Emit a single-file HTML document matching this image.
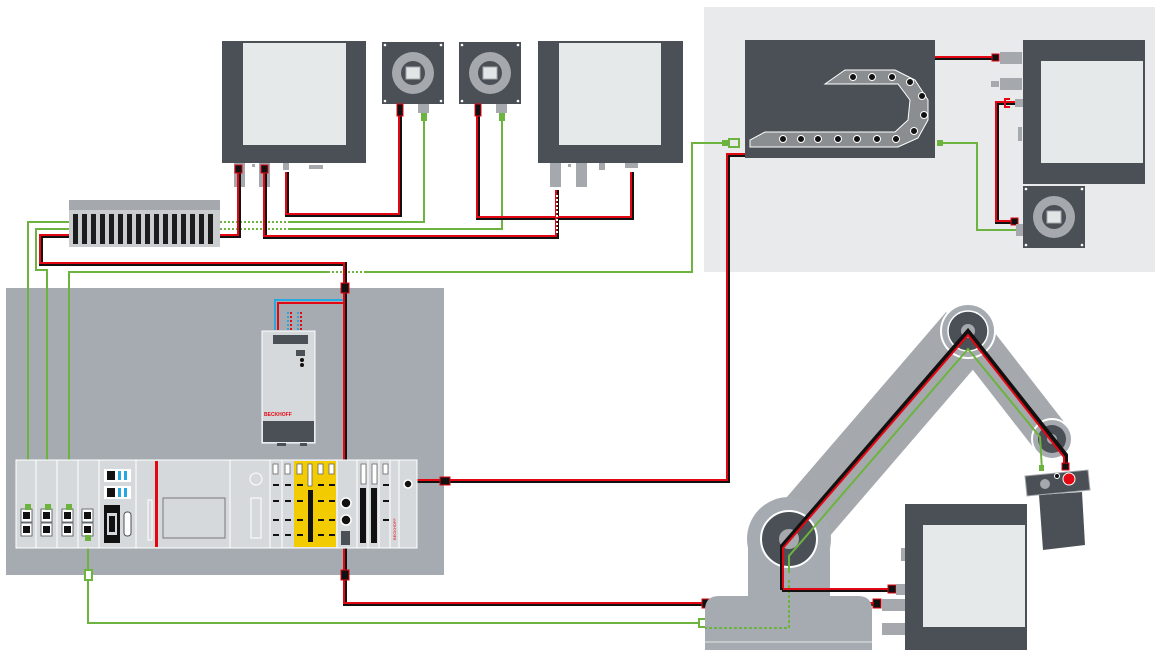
<!DOCTYPE html>
<html><head><meta charset="utf-8"><style>html,body{margin:0;padding:0;background:#fff}svg{display:block}</style></head>
<body>
<svg width="1160" height="655" viewBox="0 0 1160 655" xmlns="http://www.w3.org/2000/svg" font-family="Liberation Sans, sans-serif">
<defs>
<g id="motor">
<rect x="0" y="0" width="62" height="62" fill="#4a5055"/>
<circle cx="3" cy="3" r="1.3" fill="#fff"/><circle cx="59" cy="3" r="1.3" fill="#fff"/><circle cx="3" cy="59" r="1.3" fill="#fff"/><circle cx="59" cy="59" r="1.3" fill="#fff"/>
<circle cx="31" cy="31" r="21" fill="#a5a9ad"/><circle cx="31" cy="31" r="12" fill="#4a5055"/>
<rect x="24" y="25" width="14" height="12" fill="#e2e5e6" stroke="#a5a9ad"/>
</g>
</defs>
<rect x="704" y="7" width="451" height="265" fill="#e8eaeb"/>
<rect x="6" y="288" width="438" height="287" fill="#a5abb0"/>

<rect x="222" y="41" width="144" height="122" fill="#4a5055"/>
<rect x="243" y="43" width="103" height="102" fill="#e6e9ea"/>
<rect x="234" y="163" width="11" height="24" fill="#a5a9ad"/>
<rect x="259" y="163" width="11" height="24" fill="#a5a9ad"/>
<rect x="283" y="163" width="6" height="7" fill="#a5a9ad"/>
<rect x="309" y="165" width="14" height="4" fill="#a5a9ad"/>
<rect x="252" y="164" width="3" height="3" fill="#a5a9ad"/>
<rect x="538" y="41" width="145" height="122" fill="#4a5055"/>
<rect x="559" y="43" width="102" height="102" fill="#e6e9ea"/>
<rect x="550" y="163" width="11" height="24" fill="#a5a9ad"/>
<rect x="576" y="163" width="11" height="24" fill="#a5a9ad"/>
<rect x="599" y="163" width="6" height="7" fill="#a5a9ad"/>
<rect x="625" y="163" width="13" height="5" fill="#a5a9ad"/>
<rect x="568" y="164" width="3" height="3" fill="#a5a9ad"/>
<use href="#motor" x="382" y="42"/>
<use href="#motor" x="459" y="42"/>
<rect x="418" y="104" width="11" height="9" fill="#a5a9ad"/>
<rect x="496" y="104" width="11" height="9" fill="#a5a9ad"/>

<rect x="69" y="200" width="151" height="47" fill="#c9cdd0"/>
<rect x="69" y="200" width="151" height="10" fill="#a5a9ad"/>
<g fill="#1c1c1c">
<rect x="73" y="214" width="5" height="30"/><rect x="82" y="214" width="5" height="30"/><rect x="91" y="214" width="5" height="30"/><rect x="100" y="214" width="5" height="30"/><rect x="109" y="214" width="5" height="30"/><rect x="118" y="214" width="5" height="30"/><rect x="127" y="214" width="5" height="30"/><rect x="136" y="214" width="5" height="30"/><rect x="145" y="214" width="5" height="30"/><rect x="154" y="214" width="5" height="30"/><rect x="163" y="214" width="5" height="30"/><rect x="172" y="214" width="5" height="30"/><rect x="181" y="214" width="5" height="30"/><rect x="190" y="214" width="5" height="30"/><rect x="199" y="214" width="5" height="30"/><rect x="208" y="214" width="5" height="30"/>
</g>

<g fill="none" stroke="#6db33f" stroke-width="2">
<polyline points="424,113 424,222 220,222"/>
<polyline points="502,113 502,229 220,229"/>
<polyline points="69,222 28,222 28,462"/>
<polyline points="69,229 36,229 36,270 47,270 47,462"/>
<polyline points="69,462 69,272 692,272 692,143 722,143"/>
<polyline points="88,540 88,623 705,623"/>
<polyline points="937,143 977,143 977,230 1016,230"/>
</g>
<g stroke="#fff" stroke-width="2" stroke-dasharray="2,2"><line x1="222" y1="222" x2="290" y2="222"/><line x1="222" y1="229" x2="290" y2="229"/><line x1="330" y1="272" x2="365" y2="272"/></g>
<g fill="none" stroke-linejoin="miter">
<g stroke="#111" stroke-width="4">
<polyline points="239,170 239,236 220,236"/>
<polyline points="265,170 265,237 557,237 557,190"/>
<polyline points="287,172 287,215 400,215 400,108"/>
<polyline points="478,108 478,218 632,218 632,172"/>
<polyline points="69,236 41,236 41,264 345,264 345,500"/>
<polyline points="345,520 345,604 880,604"/>
<polyline points="410,481 728,481 728,155 745,155"/>
<polyline points="935,58 997,58"/>
<polyline points="1016,103 997,103 997,222 1016,222"/>
</g>
<g stroke="#e30613" stroke-width="2">
<polyline points="238,170 238,235 220,235"/>
<polyline points="264,170 264,236 556,236 556,190"/>
<polyline points="286,172 286,214 399,214 399,108"/>
<polyline points="477,108 477,217 631,217 631,172"/>
<polyline points="69,235 40,235 40,263 344,263 344,500"/>
<polyline points="344,520 344,603 880,603"/>
<polyline points="410,480 727,480 727,154 745,154"/>
<polyline points="935,57 997,57"/>
<polyline points="1016,102 996,102 996,221 1016,221"/>
</g>
</g>
<g stroke="#fff" stroke-width="2" stroke-dasharray="2,2"><line x1="557" y1="195" x2="557" y2="234"/><line x1="770" y1="604" x2="810" y2="604"/></g>
<rect x="235" y="165" width="7" height="8" fill="#111" stroke="#e30613"/>
<rect x="261" y="165" width="7" height="8" fill="#111" stroke="#e30613"/>
<rect x="397" y="104" width="6" height="12" fill="#111" stroke="#e30613"/>
<rect x="475" y="104" width="6" height="12" fill="#111" stroke="#e30613"/>
<rect x="341" y="283" width="8" height="10" fill="#111" stroke="#e30613"/>
<rect x="341" y="570" width="8" height="10" fill="#111" stroke="#e30613"/>
<rect x="440" y="477" width="10" height="8" fill="#111" stroke="#e30613"/>
<rect x="702" y="599" width="9" height="9" fill="#111" stroke="#e30613"/>
<rect x="421" y="113" width="6" height="8" fill="#6db33f"/>
<rect x="499" y="113" width="6" height="8" fill="#6db33f"/>
<rect x="85" y="570" width="7" height="10" fill="#fff" stroke="#6db33f" stroke-width="2"/>
<rect x="699" y="619" width="9" height="8" fill="#fff" stroke="#6db33f" stroke-width="2"/>
<rect x="722" y="140" width="6" height="6" fill="#6db33f"/>
<rect x="729" y="139" width="10" height="8" fill="none" stroke="#6db33f" stroke-width="2"/>
<rect x="937" y="140" width="6" height="6" fill="#6db33f"/>

<rect x="745" y="40" width="190" height="118" fill="#4a5055"/>
<path d="M825,84 L845,70 L895,70 L915,80 L928,100 L928,120 L918,138 L898,147 L750,147 L750,140 L765,132 L895,132 L908,120 L910,100 L898,84 Z" fill="#8a8e91" stroke="#fff" stroke-width="1"/>
<g fill="#111" stroke="#fff" stroke-width="1">
<circle cx="853" cy="77" r="3.5"/><circle cx="872" cy="77" r="3.5"/><circle cx="892" cy="77" r="3.5"/><circle cx="910" cy="82" r="3.5"/><circle cx="922" cy="96" r="3.5"/><circle cx="924" cy="115" r="3.5"/><circle cx="914" cy="131" r="3.5"/><circle cx="896" cy="139" r="3.5"/><circle cx="877" cy="139" r="3.5"/><circle cx="857" cy="139" r="3.5"/><circle cx="838" cy="139" r="3.5"/><circle cx="818" cy="139" r="3.5"/><circle cx="801" cy="139" r="3.5"/><circle cx="783" cy="139" r="3.5"/>
</g>
<rect x="1023" y="40" width="122" height="144" fill="#4a5055"/>
<rect x="1041" y="61" width="102" height="102" fill="#e6e9ea"/>
<rect x="1000" y="52" width="22" height="12" fill="#a5a9ad"/>
<rect x="1000" y="78" width="22" height="12" fill="#a5a9ad"/>
<rect x="991" y="81" width="8" height="6" fill="#a5a9ad"/>
<rect x="992" y="54" width="7" height="7" fill="#111" stroke="#e30613"/>
<rect x="1015" y="99" width="8" height="8" fill="#a5a9ad"/>
<rect x="1018" y="127" width="4" height="14" fill="#a5a9ad"/>
<path d="M1010,99 h-5 v8 h5" fill="none" stroke="#e30613" stroke-width="2"/>
<use href="#motor" x="1023" y="186"/>
<rect x="1011" y="218" width="7" height="7" fill="#111" stroke="#e30613"/>
<rect x="1016" y="224" width="7" height="12" fill="#a5a9ad"/>

<g fill="none" stroke-width="2">
<polyline points="275,330 275,300 343,300" stroke="#29a8e0"/>
<polyline points="278,330 278,303 343,303" stroke="#e30613"/>
</g>
<g stroke-width="2" stroke-dasharray="2,2"><line x1="288" y1="312" x2="288" y2="330" stroke="#29a8e0"/><line x1="291" y1="312" x2="291" y2="330" stroke="#e30613"/><line x1="298" y1="312" x2="298" y2="330" stroke="#29a8e0"/><line x1="301" y1="312" x2="301" y2="330" stroke="#e30613"/></g>
<rect x="262" y="331" width="53" height="112" fill="#d6d9db" stroke="#fff"/>
<rect x="273" y="335" width="35" height="9" fill="#4a5055"/>
<rect x="296" y="350" width="9" height="6" fill="#4a5055"/>
<circle cx="302" cy="360" r="2" fill="#111"/><circle cx="302" cy="365" r="2" fill="#111"/>
<text x="264" y="416" font-size="5" font-weight="bold" fill="#e30613">BECKHOFF</text>
<rect x="263" y="421" width="51" height="21" fill="#4a5055"/>
<rect x="277" y="443" width="9" height="3" fill="#4a5055"/><rect x="300" y="443" width="7" height="3" fill="#4a5055"/>

<rect x="16" y="460" width="401" height="88" fill="#d6d9db" stroke="#fff"/>
<g stroke="#fff" stroke-width="1">
<line x1="36" y1="460" x2="36" y2="548"/><line x1="57" y1="460" x2="57" y2="548"/><line x1="78" y1="460" x2="78" y2="548"/><line x1="99" y1="460" x2="99" y2="548"/><line x1="136" y1="460" x2="136" y2="548"/><line x1="230" y1="460" x2="230" y2="548"/><line x1="270" y1="460" x2="270" y2="548"/><line x1="282" y1="460" x2="282" y2="548"/><line x1="337" y1="460" x2="337" y2="548"/><line x1="357" y1="460" x2="357" y2="548"/><line x1="368" y1="460" x2="368" y2="548"/><line x1="379" y1="460" x2="379" y2="548"/><line x1="390" y1="460" x2="390" y2="548"/><line x1="399" y1="460" x2="399" y2="548"/>
</g>
<rect x="294" y="461" width="42" height="86" fill="#f2cc00"/>
<g fill="#fff" stroke="#4a5055" stroke-width="0.8">
<rect x="21" y="509" width="11" height="13"/><rect x="21" y="523" width="11" height="13"/>
<rect x="41" y="509" width="11" height="13"/><rect x="41" y="523" width="11" height="13"/>
<rect x="62" y="509" width="11" height="13"/><rect x="62" y="523" width="11" height="13"/>
<rect x="82" y="509" width="11" height="13"/><rect x="82" y="523" width="11" height="13"/>
</g>
<g fill="#111"><rect x="23" y="512" width="7" height="7"/><rect x="23" y="526" width="7" height="7"/><rect x="43" y="512" width="7" height="7"/><rect x="43" y="526" width="7" height="7"/><rect x="64" y="512" width="7" height="7"/><rect x="64" y="526" width="7" height="7"/><rect x="84" y="512" width="7" height="7"/><rect x="84" y="526" width="7" height="7"/></g>
<g fill="#6db33f"><rect x="25" y="504" width="6" height="6"/><rect x="45" y="504" width="6" height="6"/><rect x="66" y="504" width="6" height="6"/><rect x="85" y="535" width="6" height="6"/></g>
<rect x="104" y="469" width="27" height="13" fill="#fff"/><rect x="104" y="486" width="27" height="13" fill="#fff"/>
<g fill="#111"><rect x="107" y="471" width="8" height="9"/><rect x="107" y="488" width="8" height="9"/><rect x="104" y="505" width="16" height="38"/></g>
<g fill="#29a8e0"><rect x="118" y="471" width="3" height="9"/><rect x="124" y="471" width="3" height="9"/><rect x="118" y="488" width="3" height="9"/><rect x="124" y="488" width="3" height="9"/></g>
<rect x="107" y="513" width="10" height="22" fill="#d6d9db"/><rect x="109" y="516" width="6" height="16" fill="#111"/>
<rect x="124" y="512" width="7" height="24" rx="3" fill="#fff" stroke="#4a5055"/>
<rect x="155" y="461" width="3" height="86" fill="#e30613"/>
<rect x="148" y="500" width="4" height="40" fill="none" stroke="#fff"/>
<rect x="163" y="498" width="62" height="40" fill="none" stroke="#777"/>
<circle cx="256" cy="479" r="6" fill="none" stroke="#fff"/>
<rect x="251" y="498" width="10" height="40" fill="none" stroke="#fff"/>
<g fill="#fff" stroke="#666" stroke-width="0.8">
<rect x="273" y="464" width="5" height="10"/><rect x="285" y="464" width="5" height="10"/><rect x="297" y="464" width="5" height="10"/><rect x="308" y="464" width="4" height="22"/><rect x="318" y="464" width="5" height="10"/><rect x="329" y="464" width="5" height="10"/><rect x="361" y="464" width="5" height="20"/><rect x="372" y="464" width="5" height="20"/><rect x="383" y="464" width="5" height="10"/>
</g>
<g fill="#111">
<rect x="273" y="484" width="6" height="2"/><rect x="285" y="484" width="6" height="2"/><rect x="297" y="484" width="6" height="2"/><rect x="318" y="484" width="6" height="2"/><rect x="329" y="484" width="6" height="2"/>
<rect x="273" y="500" width="6" height="2"/><rect x="285" y="500" width="6" height="2"/><rect x="297" y="500" width="6" height="2"/><rect x="318" y="500" width="6" height="2"/><rect x="329" y="500" width="6" height="2"/>
<rect x="273" y="519" width="6" height="2"/><rect x="285" y="519" width="6" height="2"/><rect x="297" y="519" width="6" height="2"/><rect x="318" y="519" width="6" height="2"/><rect x="329" y="519" width="6" height="2"/>
<rect x="273" y="534" width="6" height="2"/><rect x="285" y="534" width="6" height="2"/><rect x="297" y="534" width="6" height="2"/><rect x="318" y="534" width="6" height="2"/><rect x="329" y="534" width="6" height="2"/>
<rect x="308" y="490" width="5" height="52"/><rect x="360" y="488" width="6" height="55"/><rect x="371" y="488" width="6" height="55"/>
<rect x="383" y="484" width="6" height="2"/><rect x="383" y="500" width="6" height="2"/><rect x="383" y="519" width="6" height="2"/>
</g>
<text x="396" y="540" font-size="4" fill="#e30613" transform="rotate(-90 396 540)">BECKHOFF</text>
<circle cx="346" cy="503" r="5" fill="#111" stroke="#fff" stroke-width="1.5"/>
<circle cx="346" cy="520" r="5" fill="#111" stroke="#fff" stroke-width="1.5"/>
<rect x="341" y="531" width="9" height="14" fill="#4a5055"/>
<circle cx="408" cy="484" r="4" fill="#111" stroke="#fff" stroke-width="1.5"/>

<!-- robot -->
<g stroke="#a5a9ad" fill="none">
<line x1="789" y1="539" x2="968" y2="331" stroke-width="58"/>
<line x1="968" y1="331" x2="1052" y2="439" stroke-width="40" stroke-linecap="round"/>
</g>
<rect x="748" y="548" width="82" height="52" fill="#a5abb0"/>
<circle cx="789" cy="539" r="42" fill="#a5abb0"/>
<circle cx="789" cy="539" r="28" fill="#4a5055" stroke="#fff" stroke-width="2"/>
<circle cx="789" cy="539" r="10" fill="#a5a9ad"/>
<circle cx="968" cy="331" r="27" fill="#a5abb0" stroke="#fff" stroke-width="2"/>
<circle cx="968" cy="331" r="20" fill="#4a5055" stroke="#fff" stroke-width="1.5"/>
<circle cx="968" cy="331" r="7" fill="#a5a9ad"/>
<circle cx="1052" cy="439" r="20" fill="#a5abb0" stroke="#fff" stroke-width="2"/>
<circle cx="1052" cy="439" r="14" fill="#4a5055"/>
<circle cx="1052" cy="439" r="5" fill="#a5a9ad"/>
<path d="M705,610 q0,-14 14,-14 h139 q14,0 14,14 v40 h-167 z" fill="#a5abb0"/>
<line x1="705" y1="642" x2="872" y2="642" stroke="#e6e9ea" stroke-width="1"/>
<polygon points="1039,495 1082,492 1085,545 1043,550" fill="#4a5055"/>
<polygon points="1025,476 1088,470 1090,490 1027,496" fill="#4a5055" stroke="#a5a9ad"/>
<circle cx="1045" cy="484" r="5" fill="#a5a9ad"/>
<circle cx="1057" cy="476" r="2.5" fill="#111" stroke="#fff"/>
<circle cx="1069" cy="479" r="6" fill="#e30613" stroke="#fff"/>
<g fill="none">
<polyline points="789,573 789,556 968,349 1040,437 1042,470" stroke="#6db33f" stroke-width="2"/>
<polyline points="789,580 789,628 705,628" stroke="#6db33f" stroke-width="2" stroke-dasharray="3,2"/>
<polyline points="782,590 782,546 968,331 1066,455 1066,468" stroke="#111" stroke-width="4"/>
<polyline points="783,589 783,548 968,335 1064,457 1064,468" stroke="#e30613" stroke-width="2"/>
<polyline points="782,590 893,590" stroke="#111" stroke-width="4"/>
<polyline points="783,589 893,589" stroke="#e30613" stroke-width="2"/>
</g>
<rect x="1062" y="463" width="7" height="7" fill="#111" stroke="#e30613"/>
<rect x="1039" y="465" width="5" height="6" fill="#6db33f"/>
<rect x="888" y="585" width="8" height="8" fill="#111" stroke="#e30613"/>
<rect x="873" y="599" width="8" height="9" fill="#111" stroke="#e30613"/>
<rect x="905" y="504" width="122" height="146" fill="#4a5055"/>
<rect x="923" y="525" width="102" height="102" fill="#e6e9ea"/>
<rect x="896" y="584" width="9" height="11" fill="#a5a9ad"/>
<rect x="882" y="599" width="23" height="12" fill="#a5a9ad"/>
<rect x="882" y="623" width="23" height="12" fill="#a5a9ad"/>
<rect x="901" y="548" width="4" height="13" fill="#a5a9ad"/>
</svg>
</body></html>
